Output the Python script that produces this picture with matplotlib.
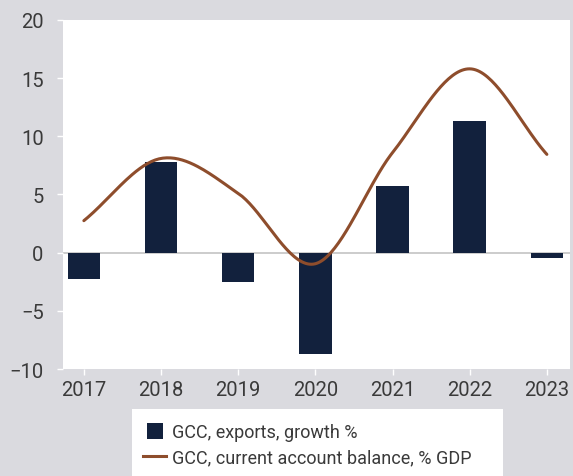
import numpy as np
import matplotlib
matplotlib.use("Agg")
import matplotlib.pyplot as plt
from matplotlib.patches import Rectangle
from matplotlib.lines import Line2D

years = ["2017", "2018", "2019", "2020", "2021", "2022", "2023"]
exports_growth = [-2.3, 7.8, -2.5, -8.7, 5.7, 11.3, -0.5]
current_account = [2.75, 8.1, 5.1, -0.95, 8.6, 15.8, 8.45]

bg = "#dadadf"
navy = "#12213d"
brown = "#8e4d2c"
txt = "#3a3a3a"

plt.rcParams["font.family"] = ["Roboto", "DejaVu Sans"]


def smooth(y, n=40):
    # catmull-rom spline through the points, like a spreadsheet "smoothed line"
    y = np.asarray(y, dtype=float)
    x = np.arange(len(y), dtype=float)
    m = np.zeros_like(y)
    m[1:-1] = (y[2:] - y[:-2]) / 2
    m[0] = y[1] - y[0]
    m[-1] = y[-1] - y[-2]
    xs, ys = [], []
    for i in range(len(y) - 1):
        t = np.linspace(0, 1, n, endpoint=(i == len(y) - 2))
        h00 = 2 * t**3 - 3 * t**2 + 1
        h10 = t**3 - 2 * t**2 + t
        h01 = -2 * t**3 + 3 * t**2
        h11 = t**3 - t**2
        xs.append(x[i] + t)
        ys.append(h00 * y[i] + h10 * m[i] + h01 * y[i + 1] + h11 * m[i + 1])
    return np.concatenate(xs), np.concatenate(ys)


fig = plt.figure(figsize=(5.73, 4.77), dpi=100, facecolor=bg)
ax = fig.add_axes([0.110, 0.2243, 0.8848, 0.7317])
ax.set_facecolor("white")

pos = np.arange(len(years))
ax.bar(pos, exports_growth, width=0.42, color=navy, zorder=2)
ax.axhline(0, color="#c4c4c4", lw=1.2, zorder=1)
sx, sy = smooth(current_account)
ax.plot(sx, sy, color=brown, lw=2.2, zorder=3, solid_capstyle="round")

ax.set_xlim(-0.27, 6.3)
ax.set_ylim(-10, 20)
ax.set_yticks([-10, -5, 0, 5, 10, 15, 20])
ax.set_xticks(pos)
ax.set_xticklabels(years)
for s in ax.spines.values():
    s.set_visible(False)
ax.tick_params(axis="both", colors="white", length=4, width=1,
               labelcolor=txt, labelsize=14.5)
ax.tick_params(axis="y", pad=10)
ax.tick_params(axis="x", pad=4)

# white legend panel under the chart
fig.patches.append(Rectangle((0.2304, 0), 0.6475, 0.1405, transform=fig.transFigure,
                             facecolor="white", edgecolor="none", zorder=0))
handles = [Line2D([0], [0], color=navy, ls="none", marker="s", markersize=11,
                  markeredgewidth=0),
           Line2D([0], [0], color=brown, lw=2.2)]
fig.legend(handles, ["GCC, exports, growth %", "GCC, current account balance, % GDP"],
           loc="upper left", bbox_to_anchor=(0.2496, 0.111), frameon=False,
           fontsize=13, labelcolor=txt, handlelength=1.3, handletextpad=0.3,
           borderpad=0, borderaxespad=0, labelspacing=0.38)

fig.savefig("out.png", dpi=100, facecolor=bg)
